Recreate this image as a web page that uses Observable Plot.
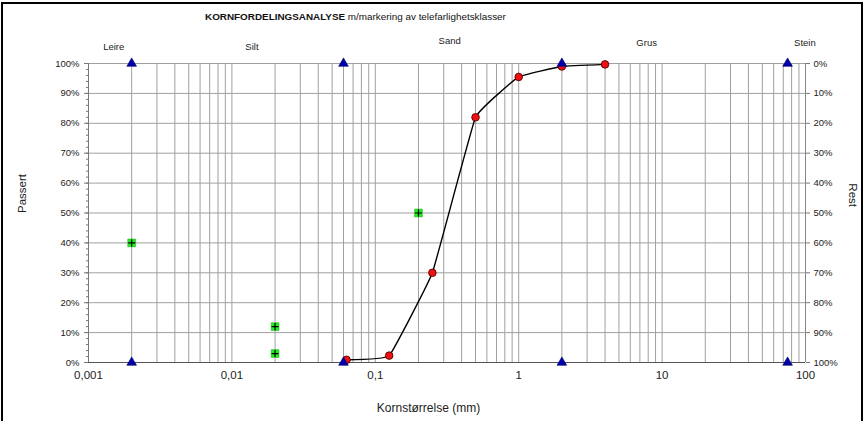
<!DOCTYPE html>
<html>
<head>
<meta charset="utf-8">
<script src="https://cdn.jsdelivr.net/npm/d3@7"></script>
<script src="https://cdn.jsdelivr.net/npm/@observablehq/plot@0.6"></script>
<style>
  html, body { margin: 0; padding: 0; background: #fff; }
  #chart svg { display: block; }
</style>
</head>
<body>
<div id="chart"></div>
<script>
// --- Data ---
const sieveSize = [0.063, 0.125, 0.25, 0.5, 1, 2, 4];          // mm
const sievePassed = [0.9, 2.3, 30, 82, 95.5, 99, 99.7];        // % passert

const frostX = [0.002, 0.02, 0.02, 0.2];                       // telefarlighetsklasser
const frostY = [40, 12, 3, 50];

const boundaryX = [0.002, 0.06, 2, 75];                         // klassegrenser
const boundaryY = [0, 100];

const classNames = ["Leire", "Silt", "Sand", "Grus", "Stein"];
const classPosX = [0.0015, 0.0138, 0.33, 7.8, 99];
const classPosY = [105.5, 105.5, 107.5, 106.8, 106.8];

const xTicks = [0.001, 0.01, 0.1, 1, 10, 100];
const xTickLabels = ["0,001", "0,01", "0,1", "1", "10", "100"];
const yTicks = [0, 10, 20, 30, 40, 50, 60, 70, 80, 90, 100];
const yMinor = d3.range(0, 101, 2);

const titleBold = "KORNFORDELINGSANALYSE";
const titleRest = "m/markering av telefarlighetsklasser";

// --- Derived tables ---
const sieve = sieveSize.map((x, i) => ({x, y: sievePassed[i]}));
const frost = frostX.map((x, i) => ({x, y: frostY[i]}));
const bounds = boundaryY.flatMap(y => boundaryX.map(x => ({x, y})));
const classes = classNames.map((name, i) => ({name, x: classPosX[i], y: classPosY[i]}));
const gridX = [];
for (const d of [0.001, 0.01, 0.1, 1, 10]) for (let m = 1; m <= 9; m++) gridX.push(+(d * m).toPrecision(3));
gridX.push(100);

const font = "Liberation Sans, Arial, sans-serif";

const chart = Plot.plot({
  width: 865,
  height: 421,
  marginLeft: 88,
  marginRight: 60,
  marginTop: 63,
  marginBottom: 59,
  style: {fontFamily: font, background: "#fff", color: "#222", overflow: "visible"},
  x: {type: "log", domain: [0.001, 100]},
  y: {domain: [0, 100]},
  marks: [
    Plot.ruleX(gridX, {stroke: "#a0a0a0", strokeWidth: 1}),
    Plot.ruleY(yTicks, {stroke: "#a0a0a0", strokeWidth: 1}),
    Plot.ruleX([0.001], {stroke: "#777"}),
    Plot.ruleX([100], {stroke: "#888"}),
    Plot.ruleY([0], {stroke: "#555"}),
    Plot.axisY({ticks: yMinor, tickFormat: () => "", tickSize: 2, stroke: "#777", label: null}),
    Plot.axisY({ticks: yTicks, tickFormat: d => d + "%", tickSize: 4, tickPadding: 5, fontSize: 9.5, stroke: "#777", label: null}),
    Plot.axisY({anchor: "right", ticks: yTicks, tickFormat: d => (100 - d) + "%", tickSize: 4, tickPadding: 4, fontSize: 9.5, stroke: "#777", label: null}),
    Plot.axisX({ticks: xTicks, tickFormat: d => xTickLabels[xTicks.indexOf(d)], tickSize: 0, tickPadding: 8, fontSize: 11.5, label: null}),
    Plot.line(sieve, {x: "x", y: "y", curve: "cardinal", tension: 0.75, stroke: "#000", strokeWidth: 1.4}),
    Plot.dot(sieve, {x: "x", y: "y", r: 3.8, fill: "#ee1111", stroke: "#500", strokeWidth: 0.9}),
    Plot.dot(bounds, {x: "x", y: "y", symbol: "triangle", r: 3.6, fill: "#0000a8", stroke: "#00006a", strokeWidth: 0.6}),
    Plot.dot(frost, {x: "x", y: "y", symbol: "square", r: 4.4, fill: "#22ee22", stroke: "#11aa11", strokeWidth: 0.5}),
    Plot.dot(frost, {x: "x", y: "y", symbol: "plus", r: 2.4, stroke: "#000", strokeWidth: 1.2}),
    Plot.text(classes, {x: "x", y: "y", text: "name", fontSize: 9.5, fill: "#222"}),
    Plot.text(["Passert"], {frameAnchor: "left", dx: 22 - 88, rotate: -90, fontSize: 11.5, fill: "#222"}),
    Plot.text(["Rest"], {frameAnchor: "right", dx: 852 - 805, dy: -6, rotate: 90, fontSize: 11.5, fill: "#222"}),
    Plot.text(["Kornstørrelse (mm)"], {frameAnchor: "bottom", dx: 428 - 446.5, dy: 49, fontSize: 12, fill: "#222"})
  ]
});

document.getElementById("chart").appendChild(chart);

// title: bold part followed by the regular part
const svg = d3.select(chart);
const title = svg.append("text")
  .attr("x", 205)
  .attr("y", 17)
  .attr("dy", "0.32em")
  .attr("text-anchor", "start")
  .attr("font-family", font)
  .attr("font-size", 9.9)
  .attr("fill", "#111");
title.append("tspan").attr("font-weight", "bold").text(titleBold);
title.append("tspan").text(" " + titleRest);

// outer chart border
svg.append("path")
  .attr("d", "M2,430V3H862V430")
  .attr("fill", "none")
  .attr("stroke", "#000")
  .attr("stroke-width", 2);
</script>
</body>
</html>
